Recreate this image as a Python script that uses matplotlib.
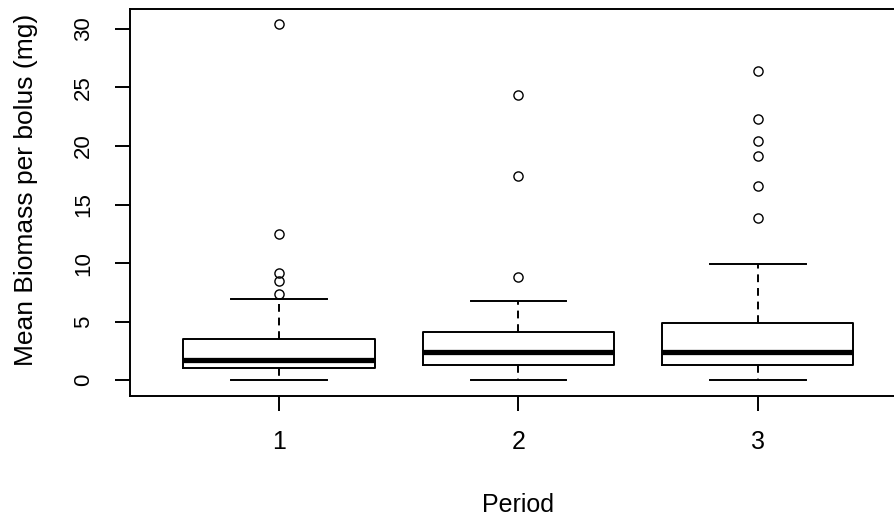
import matplotlib
matplotlib.use("Agg")
import matplotlib.pyplot as plt

plt.rcParams['font.family'] = ['Liberation Sans', 'DejaVu Sans']

# Summary statistics of mean biomass per bolus (mg) by period
periods = ["1", "2", "3"]
whisker_low = [0.0, 0.0, 0.0]
quartile_1 = [1.05, 1.34, 1.34]
medians = [1.77, 2.42, 2.42]
quartile_3 = [3.56, 4.10, 4.93]
whisker_high = [6.92, 6.75, 9.94]
outliers_1 = [30.45, 12.45, 9.2, 8.5, 7.4]
outliers_2 = [24.33, 17.44, 8.83]
outliers_3 = [26.44, 22.28, 20.45, 19.12, 16.61, 13.82]
outliers = [outliers_1, outliers_2, outliers_3]
y_ticks = [0, 5, 10, 15, 20, 25, 30]

stats = []
for i, label in enumerate(periods):
    stats.append(dict(label=label, whislo=whisker_low[i], q1=quartile_1[i],
                      med=medians[i], q3=quartile_3[i], whishi=whisker_high[i],
                      fliers=outliers[i]))

W, H = 895, 517
fig = plt.figure(figsize=(W / 100, H / 100), dpi=100)
left_px, right_px, top_px, bottom_px = 130, 906, 9, 395.5
ax = fig.add_axes([left_px / W, 1 - bottom_px / H,
                   (right_px - left_px) / W, (bottom_px - top_px) / H])

lw = 1.4
ax.bxp(stats, positions=[1, 2, 3], widths=0.8, showfliers=True,
       boxprops=dict(color='black', linewidth=lw),
       medianprops=dict(color='black', linewidth=3.8, solid_capstyle='butt'),
       whiskerprops=dict(color='black', linewidth=lw, linestyle=(0, (4, 3))),
       capprops=dict(color='black', linewidth=lw),
       capwidths=0.4,
       flierprops=dict(marker='o', markersize=6.6, markerfacecolor='none',
                       markeredgecolor='black', markeredgewidth=1.0))

ax.set_xlim(0.377, 3.62)
ax.set_ylim(-1.3, 31.7)
ax.set_yticks(y_ticks)
ax.set_yticklabels([str(t) for t in y_ticks])
ax.set_xticks([1, 2, 3])
ax.set_xticklabels(periods)

for sp in ax.spines.values():
    sp.set_linewidth(lw)
    sp.set_color('black')

ax.tick_params(axis='both', direction='out', length=10.8, width=lw, colors='black')
ax.tick_params(axis='x', labelsize=18, pad=14)
ax.tick_params(axis='y', labelsize=16, pad=15)
for t in ax.get_yticklabels():
    t.set_rotation(90)
    t.set_va('center')

ax.set_xlabel("Period", fontsize=18, va='baseline')
ax.xaxis.set_label_coords(0.5, (H - 512 - (H - bottom_px)) / (bottom_px - top_px))
fig.text(26 / W, 1 - 190 / H, "Mean Biomass per bolus (mg)", rotation=90,
         fontsize=19, ha='center', va='center')

fig.savefig("out.png", dpi=100)
